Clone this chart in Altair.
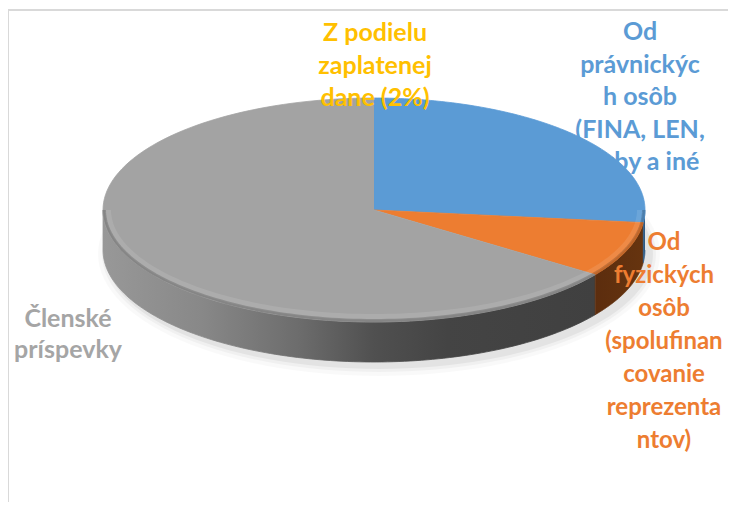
import altair as alt
import pandas as pd

# ---------------- data ----------------
categories = [
    "Z podielu zaplatenej dane (2%)",
    "Od právnických osôb (FINA, LEN, kluby a iné",
    "Od fyzických osôb (spolufinancovanie reprezentantov)",
    "Členské príspevky",
]
values = [0.0, 26.8, 8.0, 65.2]
top_colors = ["#FFC000", "#5B9BD5", "#ED7D31", "#A3A3A3"]
label_colors = ["#FFC000", "#5B9BD5", "#ED7D31", "#A5A5A5"]
label_lines = [
    ["Z podielu", "zaplatenej", "dane (2%)"],
    ["Od", "právnickýc", "h osôb", "(FINA, LEN,", "kluby a iné"],
    ["Od", "fyzických", "osôb", "(spolufinan", "covanie", "reprezenta", "ntov)"],
    ["Členské", "príspevky"],
]

df = pd.DataFrame({"category": categories, "value": values, "order": list(range(len(values)))})

# ---------------- geometry (pixel space of the plot) ----------------
W, H = 720, 494
CX, CY, RX, RY, DEPTH = 366, 202, 271, 112, 40
N = 120

xs = alt.Scale(domain=[0, W], nice=False, zero=False)
ys = alt.Scale(domain=[0, H], nice=False, zero=False, reverse=True)
X = alt.X("px:Q", scale=xs, axis=None)
Y = alt.Y("py:Q", scale=ys, axis=None)


def base():
    return (
        alt.Chart(df)
        .transform_window(cum="sum(value)", sort=[alt.SortField("order")], frame=[None, 0])
        .transform_joinaggregate(total="sum(value)")
        .transform_calculate(
            a0="2*PI*(datum.cum-datum.value)/datum.total",
            a1="2*PI*datum.cum/datum.total",
        )
    )


def side_layer(cat, fill):
    return (
        base()
        .transform_filter(alt.datum.category == cat)
        .transform_calculate(s0="max(datum.a0, PI/2)", s1="min(datum.a1, 3*PI/2)")
        .transform_filter("datum.s1 > datum.s0")
        .transform_calculate(idx=f"sequence(0, {2 * N + 2})")
        .transform_flatten(["idx"])
        .transform_calculate(
            u=f"datum.idx <= {N} ? datum.idx/{N} : 1 - (datum.idx-{N}-1)/{N}"
        )
        .transform_calculate(ang="datum.s0 + datum.u*(datum.s1-datum.s0)")
        .transform_calculate(
            px=f"{CX} + {RX}*sin(datum.ang)",
            py=f"{CY} - {RY}*cos(datum.ang) + (datum.idx <= {N} ? 0 : {DEPTH})",
        )
        .mark_line(fill=fill, stroke=fill, strokeWidth=0.8)
        .encode(x=X, y=Y, order=alt.Order("idx:Q"))
    )


def grad(stops):
    return alt.LinearGradient(
        gradient="linear",
        x1=0, x2=1, y1=0, y2=0,
        stops=[alt.GradientStop(offset=o, color=c) for o, c in stops],
    )


gray_side = grad([(0, "#989898"), (0.2, "#888888"), (0.4, "#6c6c6c"),
                  (0.55, "#505050"), (0.7, "#444444"), (1, "#404040")])
orange_side = grad([(0, "#5c2d0e"), (1, "#66340f")])
blue_side = grad([(0, "#2d5a85"), (1, "#2d5a85")])

# soft shadow
shadow_layers = []
for k, op in [(10, 0.025), (6, 0.035), (3, 0.05)]:
    shadow_layers.append(
        alt.Chart(df)
        .transform_aggregate(total="sum(value)")
        .transform_calculate(idx=f"sequence(0, {N + 1})")
        .transform_flatten(["idx"])
        .transform_calculate(ang=f"2*PI*datum.idx/{N}")
        .transform_calculate(
            px=f"{CX + 5} + {RX + k}*sin(datum.ang)",
            py=f"{CY + DEPTH + 4} - {RY + k}*cos(datum.ang)",
        )
        .mark_line(fill="#000000", fillOpacity=op, strokeOpacity=0)
        .encode(x=X, y=Y, order=alt.Order("idx:Q"))
    )

sides = [
    side_layer(categories[3], gray_side),
    side_layer(categories[2], orange_side),
    side_layer(categories[1], blue_side),
]

top = (
    base()
    .transform_filter("datum.value > 0")
    .transform_calculate(idx=f"sequence(0, {N + 2})")
    .transform_flatten(["idx"])
    .transform_calculate(ang=f"datum.a0 + clamp((datum.idx-1)/{N},0,1)*(datum.a1-datum.a0)")
    .transform_calculate(
        px=f"datum.idx==0 ? {CX} : {CX} + {RX}*sin(datum.ang)",
        py=f"datum.idx==0 ? {CY} : {CY} - {RY}*cos(datum.ang)",
    )
    .mark_line(strokeWidth=0.8)
    .encode(
        x=X, y=Y, order=alt.Order("idx:Q"),
        fill=alt.Fill("category:N", scale=alt.Scale(domain=categories, range=top_colors), legend=None),
        stroke=alt.Stroke("category:N", scale=alt.Scale(domain=categories, range=top_colors), legend=None),
    )
)

# soft bevel along the front rim of the top face
rim_layers = []
for inset, op, sw, col in [(5, 0.10, 6, "#ffffff"), (1.5, 0.18, 3, "#000000")]:
    rim_layers.append(
        alt.Chart(df)
        .transform_aggregate(total="sum(value)")
        .transform_calculate(idx=f"sequence(0, {N + 1})")
        .transform_flatten(["idx"])
        .transform_calculate(ang=f"PI/2 + PI*datum.idx/{N}")
        .transform_calculate(
            px=f"{CX} + {RX - inset}*sin(datum.ang)",
            py=f"{CY} - {RY - inset}*cos(datum.ang)",
        )
        .mark_line(stroke=col, strokeOpacity=op, strokeWidth=sw)
        .encode(x=X, y=Y, order=alt.Order("idx:Q"))
    )

# labels (first-line baseline positions)
label_pos = [(367, 33), (632, 32), (656, 242), (60, 319)]
line_heights = [32.5, 32.5, 33, 30.5]
font_sizes = [25, 25, 24, 25]
labels = []
for i in range(len(categories)):
    lx, ly = label_pos[i]
    labels.append(
        alt.Chart(df)
        .transform_filter(f"datum.order == {i}")
        .mark_text(
            text=label_lines[i], font="Lato", fontWeight="bold", fontSize=font_sizes[i],
            color=label_colors[i], align="center", baseline="alphabetic",
            lineHeight=line_heights[i],
        )
        .encode(x=alt.value(lx), y=alt.value(ly))
    )

frame_top = alt.Chart(df).transform_filter("datum.order == 0").mark_rule(
    color="#d9d9d9", strokeWidth=2
).encode(x=alt.value(0), x2=alt.value(W), y=alt.value(2))
frame_left = alt.Chart(df).transform_filter("datum.order == 0").mark_rule(
    color="#d9d9d9", strokeWidth=2
).encode(x=alt.value(0), y=alt.value(2), y2=alt.value(H))

chart = alt.layer(
    *shadow_layers, *sides, top, *rim_layers, *labels, frame_top, frame_left
).properties(
    width=W, height=H, autosize=alt.AutoSizeParams(type="none"), padding=0
).configure_view(stroke=None)

chart.save("out.html", embed_options={"renderer": "svg", "actions": False})
